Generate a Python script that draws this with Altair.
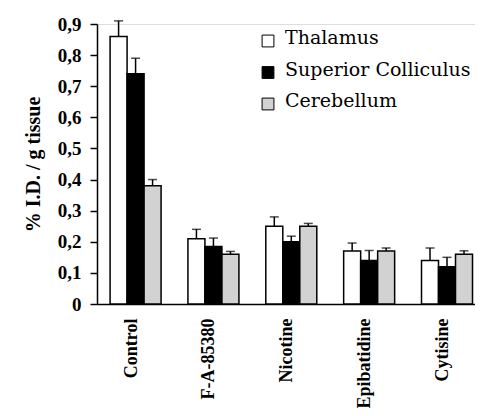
import altair as alt
import pandas as pd

groups = ["Control", "F-A-85380", "Nicotine", "Epibatidine", "Cytisine"]
series = ["Thalamus", "Superior Colliculus", "Cerebellum"]
thalamus = [0.86, 0.21, 0.25, 0.17, 0.14]
thalamus_err = [0.05, 0.03, 0.03, 0.026, 0.04]
superior = [0.74, 0.185, 0.20, 0.14, 0.12]
superior_err = [0.05, 0.027, 0.018, 0.032, 0.03]
cerebellum = [0.38, 0.16, 0.25, 0.17, 0.16]
cerebellum_err = [0.02, 0.009, 0.009, 0.01, 0.011]
colors = ["white", "black", "#d2d2d2"]
y_ticks = [0, 0.1, 0.2, 0.3, 0.4, 0.5, 0.6, 0.7, 0.8, 0.9]

rows = []
for s, vals, errs in zip(series, [thalamus, superior, cerebellum],
                         [thalamus_err, superior_err, cerebellum_err]):
    for g, v, e in zip(groups, vals, errs):
        rows.append({"group": g, "series": s, "value": v, "upper": v + e})
df = pd.DataFrame(rows)
legend_df = pd.DataFrame({"series": series})

FONT = "Liberation Serif"
LEG_FONT = "DejaVu Serif"

x_axis = alt.Axis(labelAngle=270, labelAlign="right", labelBaseline="middle",
                  labelPadding=14, labelOffset=-4, ticks=False, labelFont=FONT,
                  labelFontWeight="bold", labelFontSize=18,
                  labelColor="black", domainColor="black", domainWidth=1.5)
x_scale = alt.Scale(paddingInner=0.345, paddingOuter=0.1, align=0.84)
y_axis = alt.Axis(values=y_ticks, tickCount=10, grid=False, tickSize=7, tickColor="black",
                  tickWidth=1.5, domainColor="black", domainWidth=1.5,
                  labelOverlap=False,
                  labelExpr="replace(format(datum.value, datum.value == 0 ? 'd' : '.1f'), '.', ',')",
                  labelFont=FONT, labelFontWeight="bold", labelFontSize=19,
                  labelColor="black", labelPadding=9,
                  titleFont=FONT, titleFontWeight="bold", titleFontSize=20,
                  titleColor="black", titlePadding=14)
y_scale = alt.Scale(domain=[0, 0.9], nice=False)
TITLE = "% I.D. / g tissue"
fill_scale = alt.Scale(domain=series, range=colors)

xo_enc = alt.XOffset("series:N", sort=series,
                     scale=alt.Scale(paddingInner=0, paddingOuter=0))

bars = alt.Chart(df).mark_bar(stroke="black", strokeWidth=1.5).encode(
    x=alt.X("group:N", sort=groups, title=None, scale=x_scale, axis=x_axis),
    xOffset=xo_enc,
    y=alt.Y("value:Q", title=TITLE, scale=y_scale, axis=y_axis),
    fill=alt.Fill("series:N", sort=series, scale=fill_scale, legend=None),
)

err = alt.Chart(df).mark_rule(color="black", strokeWidth=1.5).encode(
    x=alt.X("group:N", sort=groups, title=None, scale=x_scale, axis=x_axis),
    xOffset=xo_enc,
    y=alt.Y("value:Q", title=TITLE, scale=y_scale, axis=y_axis),
    y2="upper:Q",
)

caps = alt.Chart(df).mark_tick(color="black", thickness=1.5, size=9).encode(
    x=alt.X("group:N", sort=groups, title=None, scale=x_scale, axis=x_axis),
    xOffset=xo_enc,
    y=alt.Y("upper:Q", title=TITLE, scale=y_scale, axis=y_axis),
)

main = alt.layer(bars, err, caps)

leg_y = alt.Y("series:N", sort=series, axis=None,
              scale=alt.Scale(type="point", range=[17, 80], padding=0))
leg_sq = alt.Chart(legend_df).mark_square(size=140, stroke="black", strokeWidth=1,
                                          opacity=1, filled=True).encode(
    x=alt.value(171),
    y=leg_y,
    fill=alt.Fill("series:N", sort=series, scale=fill_scale, legend=None),
)
leg_txt = alt.Chart(legend_df).mark_text(align="left", baseline="middle", font=LEG_FONT,
                                         fontSize=19, color="black", dy=-3).encode(
    x=alt.value(188),
    y=leg_y,
    text="series:N",
)
legend = alt.layer(leg_sq, leg_txt)

chart = alt.layer(main, legend).resolve_scale(y="independent").properties(
    width=378, height=280,
    padding={"left": 89, "top": 16, "right": 0, "bottom": 104},
    autosize=alt.AutoSizeParams(type="none"),
).configure_view(stroke=None).configure(background="white")

chart.save("out.html", embed_options={"renderer": "svg", "actions": False})
